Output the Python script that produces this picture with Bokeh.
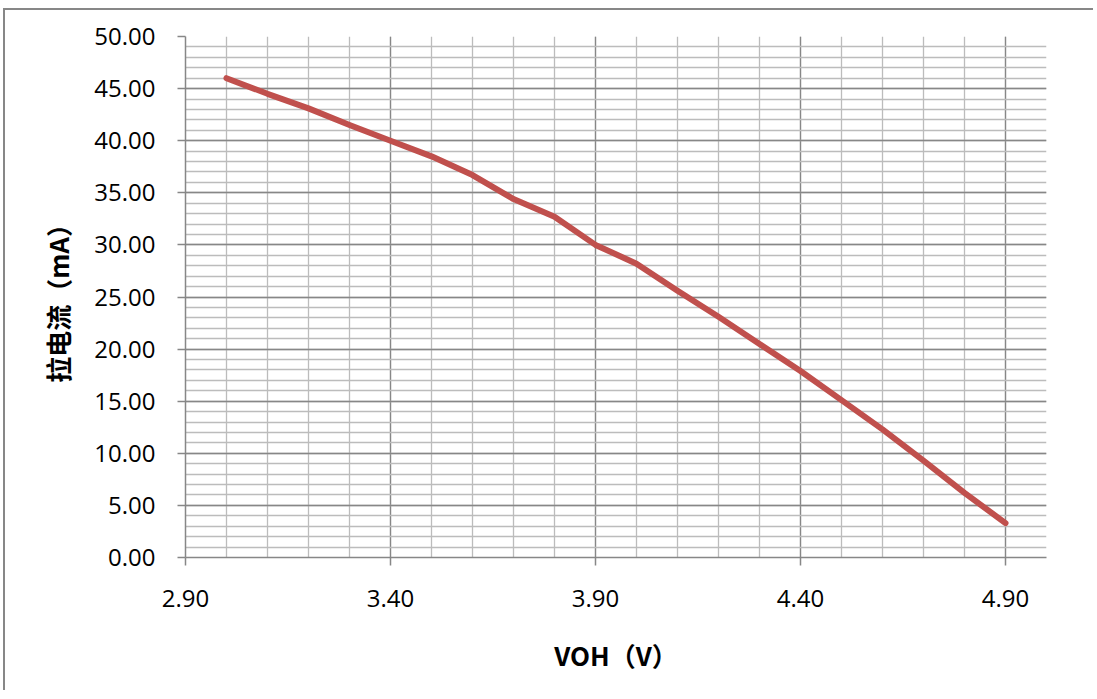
from bokeh.plotting import figure
from bokeh.models import Range1d, FixedTicker, NumeralTickFormatter
from bokeh.embed import file_html
from bokeh.resources import INLINE

# Data
voh = [3.0, 3.1, 3.2, 3.3, 3.4, 3.5, 3.6, 3.7, 3.8, 3.9,
       4.0, 4.1, 4.2, 4.3, 4.4, 4.5, 4.6, 4.7, 4.8, 4.9]
current_ma = [46.0, 44.5, 43.1, 41.5, 40.0, 38.5, 36.7, 34.4, 32.7, 30.0,
              28.2, 25.6, 23.1, 20.5, 17.9, 15.1, 12.3, 9.3, 6.2, 3.3]

x_major = [2.9, 3.4, 3.9, 4.4, 4.9]
x_minor = [round(2.9 + 0.1 * i, 2) for i in range(22)]
y_major = [0, 5, 10, 15, 20, 25, 30, 35, 40, 45, 50]
y_minor = list(range(0, 51))

x_title = "VOH（V）"
y_title = "拉电流（mA）"

p = figure(width=1090, height=682, output_backend="svg", toolbar_location=None,
           x_range=Range1d(2.9, 5.0), y_range=Range1d(0, 50),
           min_border_left=180, min_border_right=49, min_border_top=26, min_border_bottom=135)
p.styles = {"border-left": "2px solid #878787", "border-top": "2px solid #878787",
            "margin-left": "3px", "margin-top": "8px"}
p.outline_line_color = None
p.background_fill_color = "white"
p.border_fill_color = "white"

major_col = "#878787"
minor_col = "#bcbcbc"

p.xaxis.ticker = FixedTicker(ticks=x_major, minor_ticks=x_minor)
p.yaxis.ticker = FixedTicker(ticks=y_major, minor_ticks=y_minor)
p.xaxis.formatter = NumeralTickFormatter(format="0.00")
p.yaxis.formatter = NumeralTickFormatter(format="0.00")

for g in (p.xgrid, p.ygrid):
    g.grid_line_color = major_col
    g.grid_line_width = 1.3
    g.minor_grid_line_color = minor_col
    g.minor_grid_line_width = 1.3

for ax in (p.xaxis, p.yaxis):
    ax.axis_line_color = major_col
    ax.axis_line_width = 1.5
    ax.major_tick_line_color = major_col
    ax.major_tick_line_width = 1.5
    ax.major_tick_out = 8
    ax.major_tick_in = 0
    ax.minor_tick_line_color = None
    ax.major_label_text_font = "Open Sans"
    ax.major_label_text_font_size = "24px"
    ax.major_label_text_color = "black"
    ax.axis_label_text_font = "Noto Sans CJK SC"
    ax.axis_label_text_font_style = "bold"
    ax.axis_label_text_font_size = "26px"
    ax.axis_label_text_color = "black"

p.xaxis.major_label_standoff = 24
p.yaxis.major_label_standoff = 22
p.xaxis.axis_label = x_title
p.yaxis.axis_label = y_title
p.xaxis.axis_label_standoff = 26
p.yaxis.axis_label_standoff = 15

p.line(voh, current_ma, line_color="#C0504D", line_width=6,
       line_join="round", line_cap="round")

open("out.html", "w").write(file_html(p, INLINE))
